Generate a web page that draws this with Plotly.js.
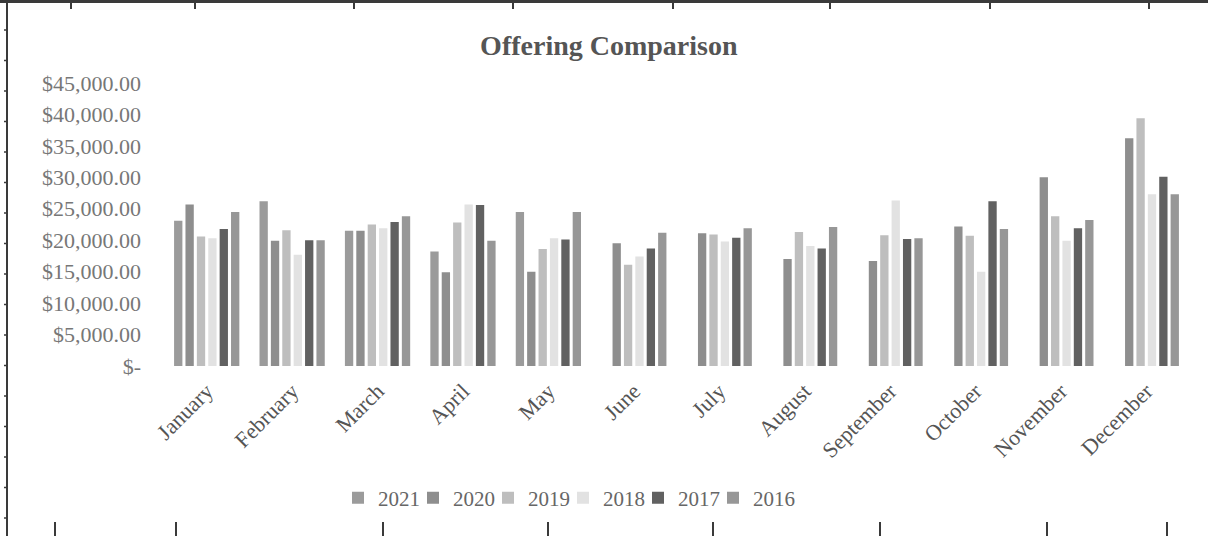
<!DOCTYPE html>
<html>
<head>
<meta charset="utf-8">
<script src="https://cdn.plot.ly/plotly-3.0.1.min.js"></script>
<style>html,body{margin:0;padding:0;background:#fff;}#chart{width:1208px;height:536px;}</style>
</head>
<body>
<div id="chart"></div>
<script>
const months = ["January","February","March","April","May","June","July","August","September","October","November","December"];
const years = ["2021","2020","2019","2018","2017","2016"];
const v2021 = [23100, 26200, 21500, 18200, 24500, null, null, null, null, null, null, null];
const v2020 = [25700, 19900, 21500, 14900, 15000, 19500, 21100, 17000, 16700, 22200, 30000, 36200];
const v2019 = [20600, 21600, 22500, 22800, 18600, 16100, 20900, 21300, 20800, 20700, 23800, 39400];
const v2018 = [20300, 17700, 21900, 25700, 20300, 17400, 19800, 19100, 26300, 15000, 19900, 27300];
const v2017 = [21800, 20000, 22900, 25600, 20100, 18700, 20400, 18700, 20200, 26200, 21900, 30100];
const v2016 = [24500, 20000, 23800, 19900, 24500, 21200, 21900, 22100, 20300, 21800, 23200, 27300];
const seriesValues = [v2021, v2020, v2019, v2018, v2017, v2016];
const colors = ["#9b9b9b", "#8e8e8e", "#bebebe", "#e2e2e2", "#616161", "#979797"];
const yTickVals = [0, 5000, 10000, 15000, 20000, 25000, 30000, 35000, 40000, 45000];
const yTickText = ["$-", "$5,000.00", "$10,000.00", "$15,000.00", "$20,000.00", "$25,000.00", "$30,000.00", "$35,000.00", "$40,000.00", "$45,000.00"];

const SERIF = "Liberation Serif";

const traces = years.map((y, i) => ({
  type: "bar",
  name: y,
  x: months,
  y: seriesValues[i],
  marker: {color: colors[i]},
  hoverinfo: "x+y+name"
}));
// invisible legend spacer so the last legend label is not clipped
traces.push({
  type: "scatter", mode: "markers", name: "\u00a0",
  x: [months[0]], y: [null],
  marker: {opacity: 0, color: "rgba(0,0,0,0)"},
  hoverinfo: "skip", showlegend: true
});

// page geometry (pixels)
const W = 1208, H = 536, L = 164, R = 19, T = 83, B = 170;
const PW = W - L - R, PH = H - T - B;
const px = p => (p - L) / PW;
const py = p => (H - B - p) / PH;

const shapes = [];
const FRAME = "#3a3a3a";
shapes.push({type: "line", xref: "paper", yref: "paper", x0: px(0), x1: px(W), y0: py(1.5), y1: py(1.5), line: {color: FRAME, width: 3}});
shapes.push({type: "line", xref: "paper", yref: "paper", x0: px(7), x1: px(7), y0: py(0), y1: py(H), line: {color: FRAME, width: 2}});
const topTicks = [71, 195, 354, 513, 673, 830, 990, 1149];
topTicks.forEach(t => shapes.push({type: "line", xref: "paper", yref: "paper", x0: px(t), x1: px(t), y0: py(2), y1: py(9), line: {color: FRAME, width: 2}}));
const bottomTicks = [55, 176, 383, 548, 713, 880, 1047, 1167];
bottomTicks.forEach(t => shapes.push({type: "line", xref: "paper", yref: "paper", x0: px(t), x1: px(t), y0: py(522), y1: py(H), line: {color: FRAME, width: 2}}));
for (let yy = 30; yy < H; yy += 30.5) {
  shapes.push({type: "line", xref: "paper", yref: "paper", x0: px(4), x1: px(7), y0: py(yy), y1: py(yy), line: {color: FRAME, width: 1.5}});
}

const layout = {
  width: W, height: H,
  margin: {l: L, r: R, t: T, b: B, pad: 0},
  paper_bgcolor: "#ffffff",
  plot_bgcolor: "#ffffff",
  font: {family: SERIF, color: "#666"},
  title: {
    text: "<b>Offering Comparison</b>",
    font: {family: SERIF, size: 28, color: "#555"},
    x: 0.504, xref: "container", xanchor: "center",
    y: 1 - 45 / H, yref: "container", yanchor: "middle"
  },
  barmode: "group",
  bargap: 0.2,
  bargroupgap: 0.27,
  xaxis: {
    type: "category",
    range: [-0.5, 11.5],
    tickangle: -45,
    showgrid: false, zeroline: false, showline: false,
    ticks: "",
    ticklabelstandoff: 7,
    tickfont: {family: SERIF, size: 22, color: "#555"},
    fixedrange: true
  },
  yaxis: {
    range: [0, 45000],
    tickvals: yTickVals,
    ticktext: yTickText,
    showgrid: false, zeroline: false, showline: false,
    ticks: "",
    ticklabelstandoff: 22,
    tickfont: {family: SERIF, size: 22, color: "#777"},
    fixedrange: true
  },
  legend: {
    orientation: "h",
    x: px(338), xanchor: "left",
    y: py(498), yanchor: "middle",
    font: {family: SERIF, size: 21, color: "#666"},
    entrywidth: 30, entrywidthmode: "pixels",
    itemwidth: 30,
    bgcolor: "rgba(0,0,0,0)",
    traceorder: "normal"
  },
  shapes: shapes,
  showlegend: true
};

Plotly.newPlot("chart", traces, layout, {displayModeBar: false, staticPlot: true});
</script>
</body>
</html>
